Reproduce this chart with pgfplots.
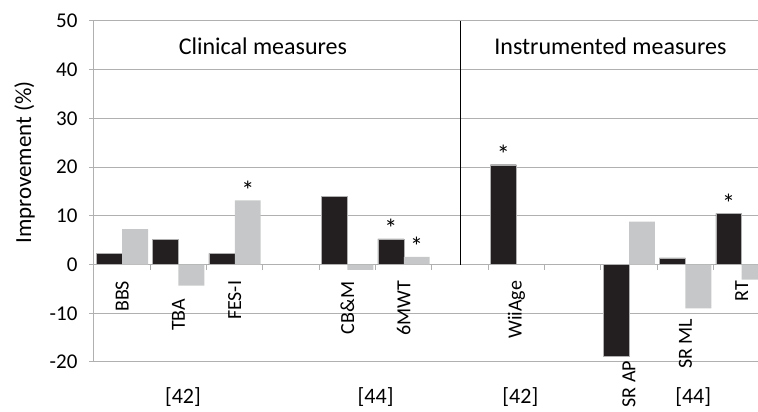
\documentclass[border=0pt]{standalone}
\usepackage{fontspec}
\setmainfont{Carlito}
\usepackage{pgfplots}
\pgfplotsset{compat=1.18}
\definecolor{barblack}{HTML}{231F20}
\definecolor{bargray}{HTML}{C6C7C8}
\definecolor{axgray}{HTML}{B0B0B0}

\begin{document}
\begin{tikzpicture}
\begin{axis}[
  scale only axis, width=664pt, height=341pt,
  xmin=-0.5, xmax=11.29, ymin=-20, ymax=50,
  axis x line*=middle, axis y line*=left,
  axis line style={axgray, line width=1pt},
  xtick={-0.5,0.5,...,10.5}, xticklabels={},
  ytick={-20,-10,...,50},
  tick style={axgray, line width=1pt},
  tick align=outside, major tick length=5pt,
  ymajorgrids, grid style={axgray, line width=1pt},
  /pgf/number format/assume math mode=true,
  yticklabel style={font=\fontsize{21}{25}\selectfont, xshift=-8pt},
  ylabel={Improvement (\%)},
  ylabel style={font=\fontsize{23}{27}\selectfont, at={(ticklabel cs:0.585)}, yshift=8pt},
  bar width=0.46,
]
% black series (first bar of each pair)
\addplot[ybar, bar shift=-0.23, fill=barblack, draw=axgray, line width=0.4pt] coordinates {
  (0,2.3) (1,5.2) (2,2.3) (4,14.0) (5,5.3) (7,20.5) (9,-18.9) (10,1.4) (11,10.5)
};
% grey series (second bar of each pair)
\addplot[ybar, bar shift=0.23, fill=bargray, draw=none] coordinates {
  (0,7.3) (1,-4.3) (2,13.2) (4,-1.1) (5,1.6) (9,8.8) (10,-9.0) (11,-3.1)
};
% separator between the two groups
\addplot[black, line width=0.8pt] coordinates {(6,0) (6,50)};
% significance stars on top of the bars
\addplot[only marks, mark=none, point meta=explicit symbolic, nodes near coords,
  every node near coord/.append style={font=\fontsize{26}{30}\selectfont, inner sep=0pt, anchor=base, yshift=1pt}]
  coordinates {
  (2.23,13.2) [*] (4.77,5.3) [*] (5.23,1.6) [*] (6.77,20.5) [*] (10.77,10.5) [*]
};
% measure names, hung below the bars
\addplot[only marks, mark=none, point meta=explicit symbolic, nodes near coords,
  every node near coord/.append style={font=\fontsize{20}{24}\selectfont, inner sep=0pt, rotate=90, anchor=east}]
  coordinates {
  (0,-3.3) [BBS] (1,-7.0) [TBA] (2,-3.3) [FES-I] (4,-3.5) [CB\&M] (5,-3.3) [6MWT]
  (7,-3.3) [WiiAge] (9,-19.7) [SR AP] (10,-11.1) [SR ML] (11,-3.3) [RT]
};
% study references under the axis
\addplot[only marks, mark=none, point meta=explicit symbolic, nodes near coords,
  every node near coord/.append style={font=\fontsize{22}{26}\selectfont, inner sep=0pt, anchor=center, yshift=-35pt}]
  coordinates {
  (1.08,-19.99) [{[42]}] (4.5,-19.99) [{[44]}] (7.07,-19.99) [{[42]}] (10.14,-19.99) [{[44]}]
};
\node[font=\fontsize{24}{28}\selectfont] at (axis cs:2.5,44.8) {Clinical measures};
\node[font=\fontsize{24}{28}\selectfont] at (axis cs:8.67,44.8) {Instrumented measures};
\end{axis}
\pgfresetboundingbox
\path ([xshift=-94pt,yshift=-50pt]current axis.south west) rectangle ([yshift=21pt]current axis.north east);
\end{tikzpicture}
\end{document}
